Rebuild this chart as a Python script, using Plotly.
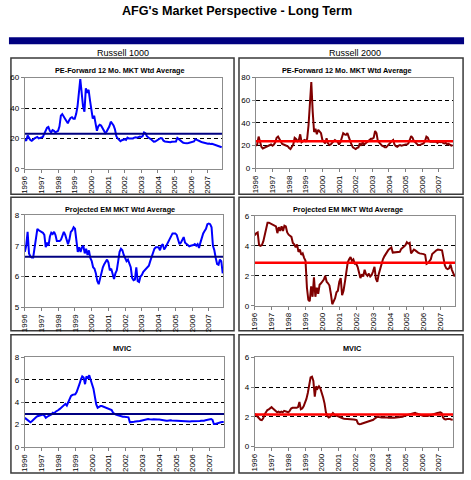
import plotly.graph_objects as go

W, H = 471, 480
FONT = "Liberation Sans, Arial, sans-serif"

# ---------------- data (monthly, Jan 1996 - Nov 2007) ----------------
years = ["1996", "1997", "1998", "1999", "2000", "2001", "2002", "2003", "2004", "2005", "2006", "2007"]

pe_r1000 = [
    19.5, 18.5, 22, 20, 19, 18.5, 19.5, 20, 20.5, 21, 20, 20.5,
    20.5, 21, 23, 25, 27, 27.5, 25, 24, 25.5, 25, 24, 24.5,
    25, 28, 35, 36, 34, 33, 31.5, 30, 32, 33.5, 34, 33,
    33, 36, 41, 50, 59, 50, 41, 37.5, 53, 50, 52, 45,
    38, 33, 35, 29, 25, 28, 29, 28.5, 27, 25.5, 23.5, 24.5,
    26, 28, 31, 29.5, 28.5, 26, 21.5, 20, 19.3, 18.2, 18.8, 19,
    19.5, 19, 20.5, 20, 20, 20.3, 20, 20.5, 20.8, 20.5, 21, 21.2,
    21, 21.5, 24, 23.5, 21.5, 20.5, 20, 19.5, 18.5, 17.8, 18, 18.5,
    18.8, 19.3, 20.3, 20, 18.5, 18, 17.8, 18, 17.8, 17.5, 17.8, 17.8,
    17.8, 18, 20.3, 19.5, 18.5, 17.8, 17.3, 17, 16.7, 16.8, 17, 17.2,
    17.2, 17.5, 18, 19.5, 19, 18.5, 17.8, 17.8, 17.5, 17.2, 17, 16.8,
    16.5, 16.7, 16.3, 16.5, 16.2, 15.6, 15.8, 15.3, 15, 14.6, 14.2,
]
pe_r2000 = [
    20, 21, 28, 22, 19, 17.5, 18, 18.5, 19, 20, 20.5, 21,
    20, 21, 23, 27, 28, 26, 23, 21.5, 21, 20.5, 20, 19.5,
    18, 17, 19, 21, 27, 26, 24, 25, 30, 23, 24, 25,
    24, 26, 38, 62, 76, 50, 32, 35, 30, 34, 32, 31,
    25, 23, 22, 26.5, 22, 20.5, 21, 22.5, 24, 25, 24, 23.5,
    21, 23, 27, 31, 30, 29.5, 31, 27, 23, 21, 18.5, 18,
    17, 18, 18.5, 22, 20, 23, 21, 22, 23, 24, 25, 26,
    26, 27, 33, 31, 24, 22.5, 21, 20, 19.5, 18.5, 18.5, 20,
    21, 22, 24, 25, 21, 19.5, 19, 20, 20.5, 20, 20.5, 20.5,
    21, 21, 22, 25, 28.5, 27, 24, 23, 21.5, 20.5, 20.5, 21,
    21, 22, 24, 28, 27, 24, 23.5, 23.5, 23, 23, 23.5, 22.5,
    23.5, 23, 23.5, 22.5, 22, 22.5, 21, 21.5, 20.5, 20, 20.5,
]
em_r1000 = [
    6.8, 7.0, 7.45, 6.75, 6.65, 6.62, 6.62, 6.9, 7.2, 7.55, 7.5, 7.47,
    7.45, 7.42, 7.35, 6.95, 7.1, 7.0, 7.3, 7.42, 7.38, 7.45, 7.35, 7.15,
    7.15, 7.15, 7.2, 7.35, 7.45, 7.35, 7.2, 7.05, 7.2, 7.45, 7.5, 7.6,
    7.55, 7.1, 6.8, 6.95, 6.8, 6.95, 7.0, 6.75, 6.9, 6.7, 6.85, 6.6,
    6.5, 6.3, 6.25, 6.1, 5.85, 5.75, 5.95, 6.2, 6.3, 6.4, 6.48, 6.55,
    6.45, 6.2, 6.25, 6.05, 5.92, 6.1, 6.2, 6.5, 6.8, 6.9, 6.85, 6.7,
    6.6, 6.5, 6.55, 6.4, 6.3, 5.95, 5.88, 5.9, 6.3, 5.85, 5.82, 6.0,
    6.05, 6.15, 6.2, 6.25, 6.28, 6.35, 6.5, 6.65, 6.8, 6.9, 6.95, 6.95,
    6.95, 6.85, 7.0, 7.05, 6.88, 6.95, 7.05, 7.1, 7.25, 7.35, 7.4, 7.4,
    7.4, 7.35, 7.15, 7.05, 7.1, 7.2, 7.28, 7.1, 7.05, 7.0, 6.98, 7.0,
    7.0, 7.02, 7.05, 7.0, 7.05, 6.93, 7.1, 7.3, 7.4, 7.48, 7.55, 7.7,
    7.72, 7.7, 7.6, 7.0, 6.85, 6.6, 6.4, 6.38, 6.55, 6.5, 6.1,
]
em_r2000 = [
    4.7, 4.85, 4.9, 4.05, 4.0, 4.05, 4.3, 4.8, 5.2, 5.55, 5.55, 5.5,
    5.5, 5.45, 5.4, 5.3, 4.85, 5.25, 5.0, 5.3, 5.0, 5.35, 5.3, 4.9,
    4.75, 4.7, 4.6, 4.2, 4.1, 3.9, 4.1, 3.6, 3.75, 3.4, 3.5, 3.2,
    3.0, 1.2, 0.4, 0.3, 1.3, 0.6, 1.9, 0.6, 1.2, 0.8, 1.4, 1.5,
    1.6, 1.75, 2.0, 1.6, 1.5, 1.35, 0.8, 0.1, 0.3, 0.5, 0.9, 1.0,
    1.6, 1.85, 0.7, 1.0, 1.6, 2.3, 2.9, 3.1, 3.25, 3.0, 3.1, 2.8,
    2.8, 2.6, 2.3, 1.85, 2.1, 1.95, 2.4, 2.1, 2.0, 2.15, 1.95, 2.05,
    2.3, 2.6, 1.8, 1.6, 2.1, 2.5, 2.85, 3.1, 3.3, 3.5, 3.6, 3.75,
    3.85, 3.9, 3.55, 3.55, 3.6, 3.55, 3.6, 3.6, 3.8, 3.85, 3.95, 4.05,
    4.25, 4.15, 4.2, 3.5, 3.6, 3.75, 3.7, 3.6, 3.55, 3.5, 3.5, 3.45,
    3.45, 3.4, 2.8, 2.85, 2.95, 3.1, 3.45, 3.55, 3.65, 3.7, 3.75, 3.75,
    3.75, 3.7, 3.2, 2.7, 2.5, 2.45, 2.5, 2.75, 2.4, 2.1, 1.95,
]
mvic_r1000 = [
    2.6, 2.5, 2.35, 2.25, 2.2, 2.3, 2.45, 2.55, 2.65, 2.75, 2.8, 2.85,
    2.85, 2.9, 2.8, 2.6, 2.7, 2.75, 2.85, 2.9, 3.05, 3.0, 3.15, 3.2,
    3.3, 3.4, 3.5, 3.6, 3.75, 3.85, 3.7, 4.0, 4.4, 4.55, 4.65, 4.65,
    4.7, 4.9, 5.2, 5.6, 6.0, 6.3, 6.2, 5.6, 6.3, 6.1, 6.4, 5.9,
    5.6, 5.2, 4.4, 3.8, 3.5, 3.6, 3.65, 3.65, 3.6, 3.55, 3.5, 3.45,
    3.45, 3.4, 3.3, 3.05, 2.95, 2.9, 2.85, 2.8, 2.75, 2.72, 2.7, 2.7,
    2.7, 2.68, 2.65, 2.2, 2.2, 2.25, 2.25, 2.28, 2.28, 2.3, 2.32, 2.35,
    2.38, 2.42, 2.45, 2.5, 2.5, 2.48, 2.45, 2.45, 2.48, 2.45, 2.45, 2.45,
    2.45, 2.42, 2.4, 2.38, 2.38, 2.35, 2.35, 2.38, 2.38, 2.36, 2.35, 2.35,
    2.36, 2.38, 2.35, 2.33, 2.3, 2.28, 2.28, 2.3, 2.3, 2.3, 2.28, 2.3,
    2.3, 2.32, 2.3, 2.28, 2.3, 2.32, 2.35, 2.33, 2.35, 2.38, 2.4, 2.42,
    2.45, 2.5, 2.42, 2.05, 2.05, 2.1, 2.15, 2.2, 2.2, 2.22, 2.22,
]
mvic_r2000 = [
    2.2, 2.1, 2.0, 1.9, 1.8, 1.78, 1.9, 2.15, 2.3, 2.45, 2.5, 2.55,
    2.65, 2.55, 2.45, 2.35, 2.3, 2.35, 2.3, 2.35, 2.3, 2.4, 2.35, 2.3,
    2.3, 2.4, 2.55, 2.6, 2.6, 2.55, 2.6, 2.65, 3.0, 2.5, 2.55, 2.7,
    2.9, 3.2, 3.6, 4.2, 4.65, 4.7, 4.4, 3.35, 4.05, 3.9, 4.05, 3.9,
    3.65, 3.3, 2.9, 2.3, 2.05, 1.95, 2.0, 2.1, 2.25, 2.15, 2.1, 2.05,
    2.05, 2.0, 1.95, 1.9, 1.87, 1.87, 1.86, 1.86, 1.85, 1.84, 1.83, 1.82,
    1.8, 1.78, 1.55, 1.5, 1.52, 1.55, 1.58, 1.6, 1.65, 1.68, 1.7, 1.72,
    1.75, 1.8, 1.88, 1.95, 2.0, 1.98, 1.95, 1.95, 1.97, 1.98, 1.95, 1.95,
    1.93, 1.95, 1.97, 1.95, 1.94, 1.95, 1.93, 1.92, 1.93, 1.95, 2.0, 2.05,
    2.08, 2.1, 2.12, 2.15, 2.18, 2.2, 2.25, 2.27, 2.22, 2.18, 2.12, 2.1,
    2.08, 2.05, 2.05, 2.03, 2.05, 2.08, 2.1, 2.12, 2.15, 2.18, 2.22, 2.25,
    2.28, 2.3, 2.25, 1.95, 1.85, 1.82, 1.85, 1.87, 1.85, 1.82, 1.8,
]

avg_pe_r1000 = 23.1
avg_pe_r2000 = 23.8
avg_em_r1000 = 6.64
avg_em_r2000 = 2.88
avg_mvic_r1000 = 2.95
avg_mvic_r2000 = 2.15

title_text = "AFG's Market Perspective - Long Term"
column_titles = ["Russell 1000", "Russell 2000"]
panel_titles = ["PE-Forward 12 Mo. MKT Wtd Average", "Projected EM MKT Wtd Average", "MVIC"]

# ---------------- layout helpers ----------------
def dom_x(a, b):
    return [a / W, b / W]


def dom_y(top, bottom):
    return [1 - bottom / H, 1 - top / H]


LEFT_COL = "#0000FF"
LEFT_AVG = "#000080"
RIGHT_COL = "#800000"
RIGHT_AVG = "#FF0000"

panels = [
    dict(series=pe_r1000, avg=avg_pe_r1000, col=LEFT_COL, acol=LEFT_AVG, aw=2,
         px=(21, 220), py=(75, 168), yr=[0, 60], yt=[0, 20, 40, 60], title=panel_titles[0], tpos=(117, 68)),
    dict(series=pe_r2000, avg=avg_pe_r2000, col=RIGHT_COL, acol=RIGHT_AVG, aw=2.5,
         px=(254, 453), py=(75, 167.5), yr=[0, 80], yt=[0, 20, 40, 60, 80], title=panel_titles[0], tpos=(346, 68)),
    dict(series=em_r1000, avg=avg_em_r1000, col=LEFT_COL, acol=LEFT_AVG, aw=2,
         px=(21, 221), py=(215, 309), yr=[5, 8], yt=[5, 6, 7, 8], title=panel_titles[1], tpos=(117, 209)),
    dict(series=em_r2000, avg=avg_em_r2000, col=RIGHT_COL, acol=RIGHT_AVG, aw=2.5,
         px=(253, 455), py=(216, 307.5), yr=[0, 6], yt=[0, 2, 4, 6], title=panel_titles[1], tpos=(347, 209)),
    dict(series=mvic_r1000, avg=avg_mvic_r1000, col=LEFT_COL, acol=LEFT_AVG, aw=2,
         px=(21, 222), py=(360, 451.5), yr=[0, 8], yt=[0, 2, 4, 6, 8], title=panel_titles[2], tpos=(120, 351)),
    dict(series=mvic_r2000, avg=avg_mvic_r2000, col=RIGHT_COL, acol=RIGHT_AVG, aw=2.5,
         px=(253, 453), py=(360, 451), yr=[0, 6], yt=[0, 2, 4, 6], title=panel_titles[2], tpos=(351, 351)),
]

fig = go.Figure()
layout = dict(
    width=W, height=H, margin=dict(l=0, r=0, t=0, b=0),
    paper_bgcolor="white", plot_bgcolor="white", showlegend=False,
    font=dict(family=FONT, size=8, color="black"),
)

XMAX = 142.3
tickvals_x = [12 * i for i in range(len(years))]

for i, p in enumerate(panels, start=1):
    xa = "x" if i == 1 else f"x{i}"
    ya = "y" if i == 1 else f"y{i}"
    xs = list(range(len(p["series"])))
    fig.add_trace(go.Scatter(x=xs, y=p["series"], mode="lines", xaxis=xa, yaxis=ya,
                             line=dict(color=p["col"], width=2), hoverinfo="skip"))
    fig.add_trace(go.Scatter(x=[0, XMAX], y=[p["avg"], p["avg"]], mode="lines", xaxis=xa, yaxis=ya,
                             line=dict(color=p["acol"], width=p["aw"]), hoverinfo="skip"))
    layout["xaxis" if i == 1 else f"xaxis{i}"] = dict(
        domain=dom_x(*p["px"]), anchor=ya, range=[0, XMAX],
        tickmode="array", tickvals=tickvals_x, ticktext=years, tickangle=-90,
        ticks="outside", ticklen=3, tickcolor="#808080",
        showline=True, linecolor="#8c8c8c", linewidth=1, mirror=True,
        showgrid=False, zeroline=False, tickfont=dict(size=8, family=FONT),
    )
    layout["yaxis" if i == 1 else f"yaxis{i}"] = dict(
        domain=dom_y(*p["py"]), anchor=xa, range=p["yr"],
        tickmode="array", tickvals=p["yt"],
        ticks="outside", ticklen=3, tickcolor="#808080",
        showline=True, linecolor="#8c8c8c", linewidth=1, mirror=True,
        showgrid=True, gridcolor="black", griddash="4px,3px", gridwidth=1,
        zeroline=False, tickfont=dict(size=8, family=FONT),
    )

shapes = [
    dict(type="rect", xref="paper", yref="paper", x0=5 / W, x1=464 / W, y0=1 - 41 / H, y1=1 - 34 / H,
         fillcolor="#000080", line=dict(width=0), layer="below"),
]
rows = [(55, 194), (197, 333), (337, 478)]
cols = [(7, 232), (237, 463)]
for (t, b) in rows:
    for (l, r) in cols:
        shapes.append(dict(type="rect", xref="paper", yref="paper", x0=l / W, x1=r / W, y0=1 - b / H, y1=1 - t / H,
                           line=dict(color="#3a3a3a", width=1.5), fillcolor="rgba(0,0,0,0)", layer="below"))
layout["shapes"] = shapes

annotations = [
    dict(text=f"<b>{title_text}</b>", x=235 / W, y=1 - 7 / H, xref="paper", yref="paper",
         xanchor="center", yanchor="middle", showarrow=False, font=dict(size=12.6, family=FONT, color="black")),
    dict(text=column_titles[0], x=120 / W, y=1 - 49.5 / H, xref="paper", yref="paper",
         xanchor="center", yanchor="middle", showarrow=False, font=dict(size=9, family=FONT, color="black")),
    dict(text=column_titles[1], x=354 / W, y=1 - 49.5 / H, xref="paper", yref="paper",
         xanchor="center", yanchor="middle", showarrow=False, font=dict(size=9, family=FONT, color="black")),
]
for p in panels:
    annotations.append(dict(text=f"<b>{p['title']}</b>", x=p["tpos"][0] / W, y=1 - p["tpos"][1] / H,
                            xref="paper", yref="paper", xanchor="center", yanchor="middle", showarrow=False,
                            font=dict(size=7.3, family=FONT, color="black")))
layout["annotations"] = annotations

fig.update_layout(**layout)
fig.write_html("out.html")
